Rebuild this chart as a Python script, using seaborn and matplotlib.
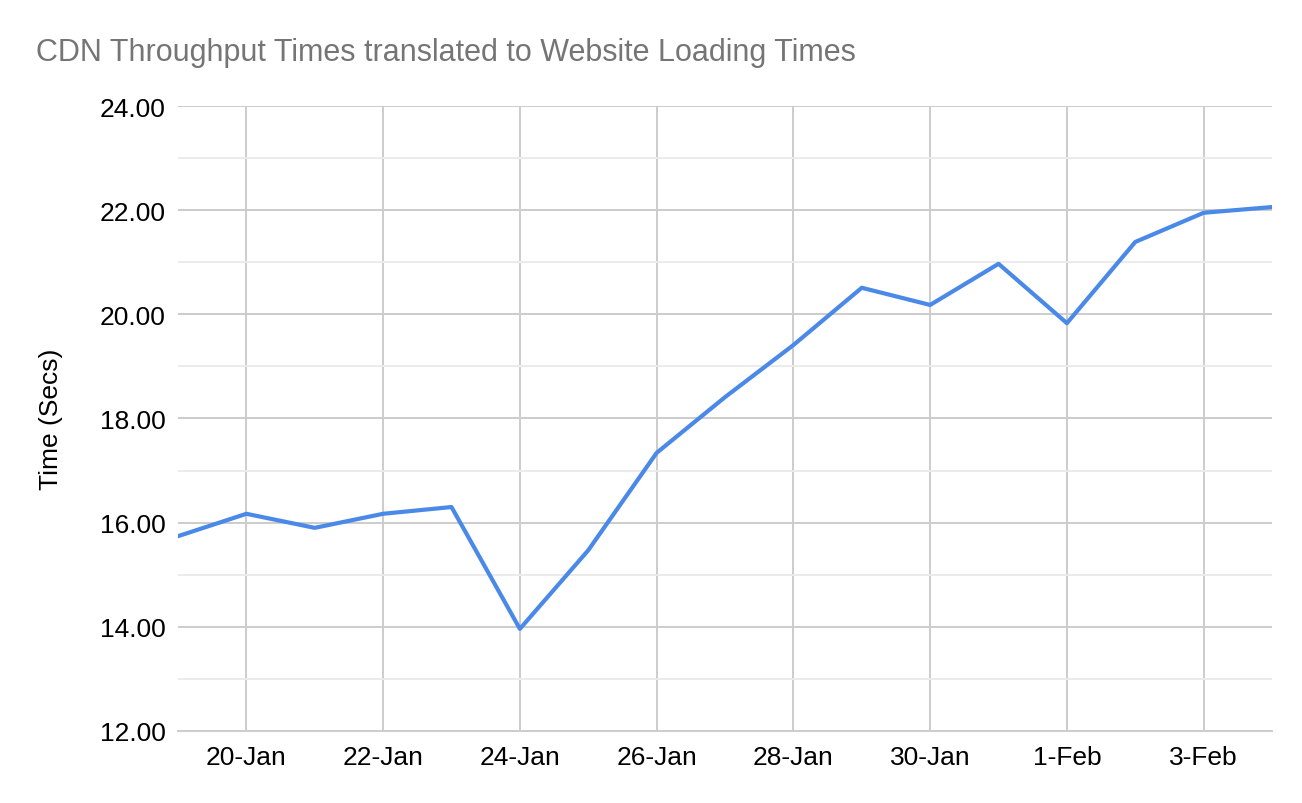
import numpy as np
import pandas as pd
import matplotlib
matplotlib.use('Agg')
import matplotlib.pyplot as plt
import matplotlib.dates as mdates
from matplotlib.ticker import MultipleLocator, FormatStrFormatter
import seaborn as sns

# ── Data ───────────────────────────────────────────────────────────────────────
dates = pd.date_range('2021-01-19', '2021-02-04', freq='D')
load_secs = [15.74, 16.17, 15.90, 16.17, 16.30, 13.96, 15.47, 17.34, 18.41,
             19.41, 20.51, 20.18, 20.97, 19.83, 21.39, 21.95, 22.06]

TITLE = 'CDN Throughput Times translated to Website Loading Times'
YLABEL = 'Time (Secs)'

LINE = '#4a89e8'
GRID_MAJOR = '#cccccc'
GRID_MINOR = '#ebebeb'
TITLE_C = '#757575'

sns.set_style('white')
plt.rcParams['font.family'] = ['Liberation Sans', 'DejaVu Sans']

df = pd.DataFrame({'date': dates, 'secs': load_secs})

fig = plt.figure(figsize=(13.02, 8.04), dpi=100)
ax = fig.add_axes([0.1367, 0.0896, 0.8403, 0.7773])

sns.lineplot(data=df, x='date', y='secs', ax=ax, color=LINE, lw=3.0, zorder=3)

ax.set_xlim(dates[0], dates[-1])
ax.set_ylim(12, 24)

# grid: majors every 2 secs / 2 days, minor horizontal every 1 sec
ax.yaxis.set_major_locator(MultipleLocator(2))
ax.yaxis.set_minor_locator(MultipleLocator(1))
ax.yaxis.set_major_formatter(FormatStrFormatter('%.2f'))
ax.xaxis.set_major_locator(mdates.DayLocator(bymonthday=[20, 22, 24, 26, 28, 30, 1, 3]))
ax.xaxis.set_major_formatter(mdates.DateFormatter('%-d-%b'))

ax.grid(True, which='major', axis='both', color=GRID_MAJOR, lw=1.4, zorder=0)
ax.grid(True, which='minor', axis='y', color=GRID_MINOR, lw=1.4, zorder=0)
ax.set_axisbelow(True)

for s in ['top', 'right', 'left']:
    ax.spines[s].set_visible(False)
ax.spines['bottom'].set_color(GRID_MAJOR)
ax.spines['bottom'].set_linewidth(1.4)

ax.tick_params(axis='both', which='both', length=0, labelsize=19, colors='#000000')
ax.tick_params(axis='x', pad=10)
ax.tick_params(axis='y', pad=9)

ax.set_xlabel('')
ax.set_ylabel(YLABEL, fontsize=19, color='#000000', labelpad=26)

fig.text(0.0277, 0.934, TITLE, fontsize=22, color=TITLE_C, ha='left', va='center')

plt.savefig('out.png', dpi=100, facecolor='white')
plt.close()
